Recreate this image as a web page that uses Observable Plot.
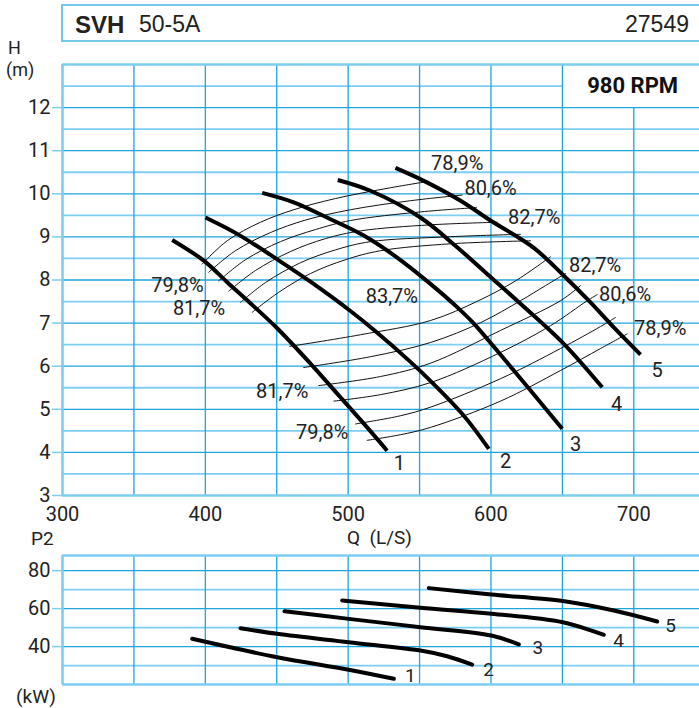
<!DOCTYPE html>
<html>
<head>
<meta charset="utf-8">
<script src="https://cdn.jsdelivr.net/npm/d3@7"></script>
<script src="https://cdn.jsdelivr.net/npm/@observablehq/plot@0.6"></script>
<style>
html, body { margin: 0; padding: 0; background: #fff; overflow: hidden; }
#page { position: relative; width: 699px; height: 708px; color: #222;
  font-family: Roboto, "Liberation Sans", sans-serif; }
#page svg { position: absolute; left: 0; }
.t { position: absolute; white-space: nowrap; line-height: 1; }
#hdr { position: absolute; left: 61px; top: 4px; width: 700px; height: 38px;
  border: 2px solid #72c9ec; border-right: none; box-sizing: border-box; }
.hf { font-family: "Liberation Sans", Arimo, Arial, sans-serif; font-size: 23px; }
</style>
</head>
<body>
<div id="page">
</div>
<script>
// ---------- data ----------
const modelCode = "SVH";
const modelName = "50-5A";
const curveNumber = "27549";
const speedLabel = "980 RPM";

const xTicks = [300, 400, 500, 600, 700];
const hTicks = [3, 4, 5, 6, 7, 8, 9, 10, 11, 12];
const pTicks = [40, 60, 80];

// Head curves H(Q)  [Q (L/s), H (m)]
const headCurve1 = [[376.8,8.93],[398.9,8.45],[415.3,7.95],[431.6,7.46],[450.3,6.88],[473.6,6.06],[494.6,5.28],[513.3,4.58],[527.3,4.04]];
const headCurve2 = [[400.1,9.45],[422.3,9.07],[450.3,8.48],[473.6,7.96],[501.6,7.28],[517.7,6.85],[543.6,6.10],[557.6,5.66],[581.0,4.85],[598.5,4.08]];
const headCurve3 = [[439.8,10.02],[461.9,9.80],[487.6,9.41],[510.9,9.03],[534.3,8.52],[557.6,7.91],[576.3,7.37],[588.0,6.99],[616.0,5.90],[649.9,4.55]];
const headCurve4 = [[492.7,10.32],[515.6,10.07],[550.6,9.45],[576.3,8.76],[597.3,8.14],[620.7,7.45],[651.0,6.52],[677.9,5.51]];
const headCurve5 = [[533.1,10.60],[553.0,10.30],[578.7,9.84],[599.7,9.38],[629.8,8.75],[651.0,8.10],[669.7,7.48],[686.0,6.90],[704.7,6.27]];

// Iso-efficiency lines, upper family
const effUpper1 = [[397.8,8.37],[415.3,8.91],[438.6,9.34],[461.9,9.63],[491.1,9.89],[529.6,10.14],[556.5,10.29]];
const effUpper2 = [[402.4,8.18],[421.1,8.68],[445.6,9.10],[470.1,9.39],[501.6,9.63],[543.7,9.84],[579.8,9.97]];
const effUpper3 = [[409.4,7.98],[428.1,8.47],[452.6,8.89],[477.1,9.17],[501.6,9.38],[550.7,9.58],[589.9,9.68]];
const effUpper4 = [[416.4,7.74],[435.1,8.22],[459.6,8.66],[484.1,8.96],[508.7,9.14],[557.7,9.28],[604.4,9.34]];
const effUpper5 = [[424.6,7.48],[442.1,7.94],[466.6,8.40],[491.2,8.70],[515.7,8.89],[568.2,9.00],[620.7,9.06]];
const effUpper6 = [[432.8,7.25],[451.2,7.71],[473.6,8.15],[498.1,8.47],[522.7,8.68],[571.7,8.84],[627.7,8.91]];
// Iso-efficiency lines, lower family
const effLower1 = [[459.1,6.46],[508.6,6.73],[557.7,7.06],[591.3,7.52],[617.2,7.98],[641.7,8.54]];
const effLower2 = [[468.9,5.97],[515.6,6.22],[557.7,6.55],[592.7,7.01],[620.7,7.52],[638.2,7.87],[652.2,8.15]];
const effLower3 = [[479.4,5.55],[522.6,5.76],[557.7,6.07],[606.7,6.83],[648.7,7.52],[662.7,7.87]];
const effLower4 = [[490.0,5.19],[522.6,5.34],[557.7,5.62],[606.7,6.32],[641.7,6.94],[667.4,7.52],[674.4,7.66]];
const effLower5 = [[505.1,4.66],[536.6,4.85],[557.7,5.05],[606.7,5.71],[648.7,6.41],[676.7,6.92],[687.2,7.13]];
const effLower6 = [[513.3,4.28],[536.6,4.41],[557.7,4.58],[606.7,5.19],[648.7,5.90],[676.7,6.41],[695.4,6.75]];

const effLabelText = ["79,8%","81,7%","78,9%","80,6%","82,7%","83,7%","81,7%","79,8%","82,7%","80,6%","78,9%"];
const effLabelQ    = [380.5, 395.6, 576.3, 599.7, 630.3, 530.6, 453.8, 481.8, 672.9, 693.9, 718.5];
const effLabelH    = [7.87, 7.34, 10.71, 10.13, 9.45, 7.62, 5.40, 4.47, 8.33, 7.66, 6.88];

const curveNames = ["1", "2", "3", "4", "5"];
const headLabelQ = [535.9, 610.2, 659.2, 687.9, 716.4];
const headLabelH = [3.75, 3.79, 4.18, 5.11, 5.90];

// Power curves P2(Q)  [Q (L/s), P2 (kW)]
const powerCurve1 = [[390.8,44.1],[450.3,34.4],[500.4,27.8],[532.0,23.0]];
const powerCurve2 = [[424.6,49.7],[450.3,46.7],[500.4,42.3],[550.6,37.9],[569.3,34.9],[586.8,30.5]];
const powerCurve3 = [[455.4,58.6],[500.4,54.6],[550.6,50.2],[600.2,45.8],[619.5,41.1]];
const powerCurve4 = [[495.8,64.3],[550.6,60.4],[600.2,57.3],[650.3,52.8],[679.0,46.2]];
const powerCurve5 = [[556.5,70.8],[600.2,67.4],[650.3,64.0],[686.0,59.0],[716.4,53.2]];
const powerLabelQ = [543.6, 598.3, 632.9, 689.3, 725.7];
const powerLabelP = [24.7, 27.9, 39.2, 42.9, 50.8];

// ---------- styling ----------
const FONT = 'Roboto, "Liberation Sans", sans-serif';
const MAJOR = "#1ea5da";
const MINOR = "#7ccdef";
const BORDER = "#7ccdef";
const INK = "#222";

const headCurves = [headCurve1, headCurve2, headCurve3, headCurve4, headCurve5];
const effLines = [effUpper1, effUpper2, effUpper3, effUpper4, effUpper5, effUpper6,
                  effLower1, effLower2, effLower3, effLower4, effLower5, effLower6];
const powerCurves = [powerCurve1, powerCurve2, powerCurve3, powerCurve4, powerCurve5];

const effLabels = effLabelText.map((t, i) => ({t, q: effLabelQ[i], h: effLabelH[i]}));
const headLabels = curveNames.map((t, i) => ({t, q: headLabelQ[i], h: headLabelH[i]}));
const powerLabels = curveNames.map((t, i) => ({t, q: powerLabelQ[i], p: powerLabelP[i]}));

const qMax = 746;
const hMajor = d3.range(4, 12.5, 1);
const hMinor = d3.range(3.5, 12, 1);
const qGrid = [350, 400, 450, 500, 550, 600, 650];
const qGridShort = [700];

const topPlot = Plot.plot({
  width: 699, height: 525,
  marginLeft: 62, marginRight: 0, marginTop: 64, marginBottom: 30,
  x: {domain: [300, qMax]},
  y: {domain: [3, 13]},
  style: {fontFamily: FONT, fontSize: "20px", color: INK, background: "none", overflow: "visible"},
  marks: [
    Plot.ruleY(hMinor, {stroke: MINOR, strokeWidth: 1.8}),
    Plot.ruleY([12.5], {x1: 300, x2: 650, stroke: MINOR, strokeWidth: 1.8}),
    Plot.ruleY(hMajor, {stroke: MAJOR, strokeWidth: 1.3}),
    Plot.ruleX(qGrid, {y1: 3, y2: 13, stroke: MAJOR, strokeWidth: 1.3}),
    Plot.ruleX(qGridShort, {y1: 3, y2: 12, stroke: MAJOR, strokeWidth: 1.3}),
    Plot.ruleY([3, 13], {stroke: BORDER, strokeWidth: 2.4}),
    Plot.ruleX([300], {y1: 3, y2: 13, stroke: BORDER, strokeWidth: 2.6}),
    Plot.axisY({ticks: hTicks, tickSize: 10, tickPadding: 2, stroke: MINOR, strokeWidth: 1.5, label: null, fontSize: 20}),
    Plot.axisX({ticks: xTicks, tickSize: 0, tickPadding: 11, label: null, fontSize: 20}),
    ...effLines.map(l => Plot.line(l, {x: d => d[0], y: d => d[1], stroke: "#111", strokeWidth: 1, curve: "catmull-rom"})),
    ...headCurves.map(c => Plot.line(c, {x: d => d[0], y: d => d[1], stroke: "#000", strokeWidth: 4, curve: "catmull-rom", strokeLinecap: "butt"})),
    Plot.text(effLabels, {x: "q", y: "h", text: "t", fontSize: 20, fill: INK}),
    Plot.text(headLabels, {x: "q", y: "h", text: "t", fontSize: 20, fill: INK}),
    Plot.text([speedLabel], {x: 731, y: 12.5, text: d => d, fontSize: 22, fontWeight: "bold", fill: "#111", textAnchor: "end"})
  ]
});
topPlot.style.top = "0px";

const pMajor = [40, 60, 80];
const pMinor = [30, 50, 70];
const bottomPlot = Plot.plot({
  width: 699, height: 168,
  marginLeft: 62, marginRight: 0, marginTop: 15, marginBottom: 24,
  x: {domain: [300, qMax]},
  y: {domain: [20, 88]},
  style: {fontFamily: FONT, fontSize: "20px", color: INK, background: "none", overflow: "visible"},
  marks: [
    Plot.ruleY(pMinor, {stroke: MINOR, strokeWidth: 1.8}),
    Plot.ruleY(pMajor, {stroke: MAJOR, strokeWidth: 1.3}),
    Plot.ruleX([350, 400, 450, 500, 550, 600, 650, 700], {y1: 20, y2: 88, stroke: MAJOR, strokeWidth: 1.3}),
    Plot.ruleY([20, 88], {stroke: BORDER, strokeWidth: 2.4}),
    Plot.ruleX([300], {y1: 20, y2: 88, stroke: BORDER, strokeWidth: 2.6}),
    Plot.axisY({ticks: pTicks, tickSize: 10, tickPadding: 2, stroke: MINOR, strokeWidth: 1.5, label: null, fontSize: 20}),
    Plot.axisX({ticks: [], label: null}),
    ...powerCurves.map(c => Plot.line(c, {x: d => d[0], y: d => d[1], stroke: "#000", strokeWidth: 4, curve: "catmull-rom"})),
    Plot.text(powerLabels, {x: "q", y: "p", text: "t", fontSize: 19, fill: INK})
  ]
});
bottomPlot.style.top = "540px";

const page = document.getElementById("page");
page.appendChild(topPlot);
page.appendChild(bottomPlot);

function addText(html, css, cls) {
  const d = document.createElement("div");
  d.className = "t" + (cls ? " " + cls : "");
  d.innerHTML = html;
  Object.assign(d.style, css);
  page.appendChild(d);
}
const hdr = document.createElement("div");
hdr.id = "hdr";
page.appendChild(hdr);
addText("<b>" + modelCode + "</b>", {left: "75px", top: "13px", fontSize: "24px"}, "hf");
addText(modelName, {left: "139px", top: "13px"}, "hf");
addText(curveNumber, {right: "10px", top: "13px"}, "hf");
addText("H", {left: "8px", top: "39px", fontSize: "18px"});
addText("(m)", {left: "6px", top: "61px", fontSize: "18px"});
addText("Q&nbsp;&nbsp;(L/S)", {left: "347px", top: "528px", fontSize: "19px"});
addText("P2", {left: "31px", top: "529px", fontSize: "19px"});
addText("(kW)", {left: "16px", top: "687px", fontSize: "19px"});
</script>
</body>
</html>
